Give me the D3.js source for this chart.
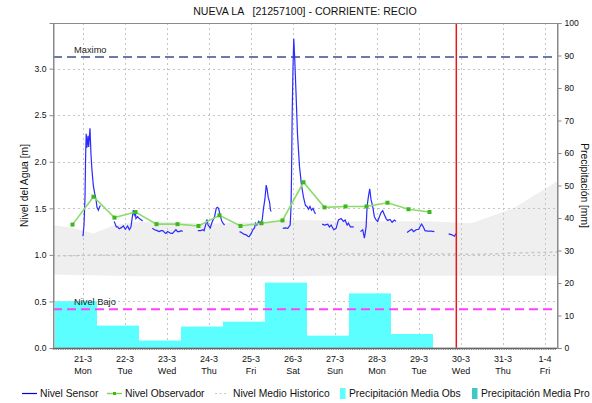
<!DOCTYPE html>
<html><head><meta charset="utf-8">
<script src="https://cdn.jsdelivr.net/npm/d3@7"></script>
<style>body{margin:0;background:#fff}svg{display:block;font-family:"Liberation Sans",Arial,sans-serif}</style>
</head><body><svg id="c" width="592" height="403"></svg>
<script>
// ---------- DATA ----------
const title = "NUEVA LA   [21257100] - CORRIENTE: RECIO";
const xDomain = ["03-20 06:52", "04-01 06:52"];
const dayTicks = ["03-21 00:00","03-22 00:00","03-23 00:00","03-24 00:00","03-25 00:00","03-26 00:00","03-27 00:00","03-28 00:00","03-29 00:00","03-30 00:00","03-31 00:00","04-01 00:00"];
const dayTickLabels = ["21-3","22-3","23-3","24-3","25-3","26-3","27-3","28-3","29-3","30-3","31-3","1-4"];
const dayTickWeekdays = ["Mon","Tue","Wed","Thu","Fri","Sat","Sun","Mon","Tue","Wed","Thu","Fri"];
const levelTicks = [0, 0.5, 1, 1.5, 2, 2.5, 3];
const levelTickLabels = ["0.0","0.5","1.0","1.5","2.0","2.5","3.0"];
const precipTicks = [0,10,20,30,40,50,60,70,80,90,100];
const levelMax = 3.49;
const precipMax = 100;
const maximoLevel = 3.125;
const nivelBajoLevel = 0.415;
const nowTime = "03-29 21:20";

const precipPeriodEnd = ["03-21 08:00","03-22 08:00","03-23 08:00","03-24 08:00","03-25 08:00","03-26 08:00","03-27 08:00","03-28 08:00","03-29 08:00"];
const precipObs = [14.4, 6.9, 2.3, 6.6, 8.1, 20.1, 3.8, 16.8, 4.3];

const obsTimes = ["03-20 18:00","03-21 06:00","03-21 18:00","03-22 06:00","03-22 18:00","03-23 06:00","03-23 18:00","03-24 06:00","03-24 18:00","03-25 06:00","03-25 18:00","03-26 06:00","03-26 18:00","03-27 06:00","03-27 18:00","03-28 06:00","03-28 18:00","03-29 06:00"];
const obsValues = [1.325, 1.625, 1.40, 1.46, 1.33, 1.33, 1.31, 1.425, 1.31, 1.34, 1.37, 1.78, 1.51, 1.52, 1.52, 1.56, 1.49, 1.46];

const histTimes = ["03-20 06:00","03-20 18:00","03-21 06:00","03-21 18:00","03-22 06:00","03-22 18:00","03-23 06:00","03-23 18:00","03-24 06:00","03-24 18:00","03-25 06:00","03-25 18:00","03-26 06:00","03-26 18:00","03-27 06:00","03-27 18:00","03-28 06:00","03-28 18:00","03-29 06:00","03-29 18:00","03-30 06:00","03-30 18:00","03-31 06:00","03-31 18:00","04-01 06:00","04-01 18:00"];
const histHigh = [1.32,1.29,1.23,1.32,1.35,1.36,1.35,1.34,1.34,1.35,1.35,1.37,1.375,1.37,1.365,1.36,1.36,1.36,1.36,1.35,1.34,1.42,1.50,1.64,1.78,1.85];
const histLow  = [0.79,0.785,0.78,0.775,0.77,0.77,0.77,0.77,0.77,0.77,0.77,0.77,0.77,0.775,0.775,0.775,0.775,0.775,0.775,0.775,0.775,0.775,0.775,0.775,0.775,0.775];
const histMedian = [0.99,0.99,1.0,1.0,1.0,1.0,0.995,1.0,1.0,1.0,1.0,1.0,1.0,1.005,1.01,1.01,1.01,1.01,1.01,1.01,1.005,1.01,1.02,1.025,1.03,1.035];

const sensorSegments = [
 [["03-21 00:00",1.20],["03-21 00:35",1.32],["03-21 01:10",1.62],["03-21 01:30",2.05],["03-21 01:50",2.30],["03-21 02:17",2.15],["03-21 02:51",2.28],["03-21 03:15",2.16],["03-21 04:00",2.36],["03-21 04:34",2.08],["03-21 05:08",1.91],["03-21 05:56",1.74],["03-21 06:41",1.66],["03-21 07:25",1.60],["03-21 08:00",1.51],["03-21 08:48",1.48],["03-21 09:22",1.51],["03-21 09:56",1.53]],
 [["03-21 17:50",1.36],["03-21 19:04",1.30],["03-21 19:48",1.30],["03-21 20:40",1.28],["03-21 21:42",1.29],["03-21 23:04",1.31],["03-22 00:12",1.275],["03-22 01:31",1.31],["03-22 02:29",1.27],["03-22 03:24",1.30],["03-22 03:58",1.375],["03-22 04:46",1.48],["03-22 05:20",1.43],["03-22 05:55",1.465],["03-22 06:16",1.39],["03-22 07:14",1.41],["03-22 08:12",1.39],["03-22 09:20",1.375],["03-22 10:05",1.365]],
 [["03-22 15:37",1.285],["03-22 16:56",1.27],["03-22 18:22",1.26],["03-22 19:37",1.25],["03-22 20:38",1.26],["03-22 21:30",1.26],["03-22 22:38",1.24],["03-22 23:23",1.23],["03-23 00:21",1.25],["03-23 01:19",1.24],["03-23 02:20",1.23],["03-23 03:12",1.23],["03-23 04:03",1.25],["03-23 05:06",1.27],["03-23 06:04",1.25],["03-23 07:02",1.25],["03-23 08:04",1.26],["03-23 08:55",1.25]],
 [["03-23 17:39",1.26],["03-23 19:12",1.26],["03-23 20:30",1.27],["03-23 21:11",1.26],["03-23 22:13",1.33],["03-23 22:54",1.38],["03-23 23:28",1.32],["03-24 00:43",1.29],["03-24 01:45",1.35],["03-24 03:11",1.41],["03-24 04:09",1.50],["03-24 04:47",1.51],["03-24 05:28",1.50],["03-24 06:19",1.43],["03-24 07:21",1.36],["03-24 08:02",1.34],["03-24 08:53",1.32]],
 [["03-24 17:28",1.25],["03-24 18:36",1.24],["03-24 19:20",1.23],["03-24 20:18",1.22],["03-24 21:17",1.215],["03-24 22:12",1.20],["03-24 22:53",1.195],["03-25 00:08",1.23],["03-25 01:03",1.27],["03-25 02:01",1.29],["03-25 02:36",1.34],["03-25 03:20",1.32],["03-25 04:28",1.36],["03-25 05:16",1.33],["03-25 06:24",1.375],["03-25 07:09",1.50],["03-25 07:54",1.59],["03-25 08:42",1.75],["03-25 09:16",1.70],["03-25 09:50",1.62],["03-25 10:35",1.57],["03-25 11:09",1.48],["03-25 11:33",1.465]],
 [["03-25 18:10",1.285],["03-25 19:43",1.29],["03-25 21:02",1.285],["03-25 22:24",1.32],["03-25 22:51",1.50],["03-25 23:08",1.80],["03-25 23:32",2.50],["03-26 00:00",3.00],["03-26 00:27",3.32],["03-26 01:02",3.09],["03-26 01:43",2.75],["03-26 02:34",2.30],["03-26 03:43",1.95],["03-26 04:51",1.75],["03-26 06:00",1.62],["03-26 07:09",1.53],["03-26 08:00",1.52],["03-26 08:51",1.49],["03-26 09:43",1.52],["03-26 10:34",1.48],["03-26 11:25",1.50],["03-26 12:17",1.46],["03-26 12:51",1.44]],
 [["03-26 16:40",1.33],["03-26 18:00",1.32],["03-26 19:52",1.33],["03-26 20:50",1.30],["03-26 21:48",1.32],["03-26 23:17",1.27],["03-27 00:39",1.285],["03-27 01:58",1.375],["03-27 03:30",1.39],["03-27 04:49",1.36],["03-27 05:47",1.375],["03-27 06:56",1.32],["03-27 07:41",1.34],["03-27 08:50",1.30],["03-27 10:08",1.30],["03-27 10:42",1.30]],
 [["03-27 14:32",1.25],["03-27 15:51",1.27],["03-27 16:49",1.18],["03-27 17:47",1.30],["03-27 18:21",1.52],["03-27 19:06",1.625],["03-27 19:50",1.71],["03-27 20:38",1.59],["03-27 21:33",1.52],["03-27 22:31",1.41],["03-27 23:29",1.375],["03-28 00:24",1.36],["03-28 01:23",1.41],["03-28 02:21",1.455],["03-28 03:16",1.475],["03-28 04:14",1.43],["03-28 05:12",1.39],["03-28 06:07",1.37],["03-28 07:29",1.38],["03-28 08:38",1.35],["03-28 09:56",1.375],["03-28 10:54",1.36]],
 [["03-28 17:12",1.24],["03-28 18:31",1.26],["03-28 19:50",1.275],["03-28 20:58",1.25],["03-28 22:20",1.27],["03-28 23:49",1.275],["03-29 00:47",1.31],["03-29 01:31",1.33],["03-29 02:30",1.30],["03-29 03:28",1.26],["03-29 04:57",1.255],["03-29 06:53",1.255],["03-29 08:46",1.25]],
 [["03-29 16:57",1.225],["03-29 18:53",1.215],["03-29 20:13",1.20],["03-29 21:10",1.23]]
];

const legendItems = ["Nivel Sensor","Nivel Observador","Nivel Medio Historico","Precipitación Media Obs","Precipitación Media Pro"];

// ---------- DRAW ----------
const parseT = d3.timeParse("%Y-%m-%d %H:%M");
const T = s => parseT("2022-" + s);

const svg = d3.select("#c");
const m = {l: 53, t: 23, r: 35, b: 55};
const W = 592, H = 403;
const iw = W - m.l - m.r, ih = H - m.t - m.b;

const x = d3.scaleTime().domain(xDomain.map(T)).range([m.l, m.l + iw]);
const y = d3.scaleLinear().domain([0, levelMax]).range([m.t + ih, m.t]);
const yP = d3.scaleLinear().domain([0, precipMax]).range([m.t + ih, m.t]);

svg.append("defs").append("clipPath").attr("id","clip")
  .append("rect").attr("x", m.l).attr("y", m.t).attr("width", iw).attr("height", ih);
const plot = svg.append("g").attr("clip-path","url(#clip)");

// historic band
const hist = histTimes.map((t,i) => ({t: T(t), lo: histLow[i], hi: histHigh[i], med: histMedian[i]}));
plot.append("path").datum(hist)
  .attr("d", d3.area().x(d => x(d.t)).y0(d => y(d.lo)).y1(d => y(d.hi)))
  .attr("fill", "#efefef");

// grid
const gridColor = "#c4c4c4";
plot.selectAll(".vg").data(dayTicks).join("line")
  .attr("x1", d => x(T(d)) + 0.5).attr("x2", d => x(T(d)) + 0.5)
  .attr("y1", m.t).attr("y2", m.t + ih)
  .attr("stroke", gridColor).attr("stroke-dasharray", "2,3");
plot.selectAll(".hg").data(levelTicks.filter(v => v > 0)).join("line")
  .attr("x1", m.l).attr("x2", m.l + iw)
  .attr("y1", d => Math.round(y(d)) + 0.5).attr("y2", d => Math.round(y(d)) + 0.5)
  .attr("stroke", gridColor).attr("stroke-dasharray", "2,3");

// precipitation bars
plot.selectAll(".bar").data(precipObs).join("rect")
  .attr("x", (d,i) => x(d3.timeHour.offset(T(precipPeriodEnd[i]), -24)))
  .attr("width", (d,i) => x(T(precipPeriodEnd[i])) - x(d3.timeHour.offset(T(precipPeriodEnd[i]), -24)))
  .attr("y", d => yP(d))
  .attr("height", d => yP(0) - yP(d))
  .attr("fill", "#5cffff");

// historic median
plot.append("path").datum(hist)
  .attr("d", d3.line().x(d => x(d.t)).y(d => y(d.med)))
  .attr("fill","none").attr("stroke","#c8c8c8").attr("stroke-width",1.5).attr("stroke-dasharray","3,3");

// Maximo / Nivel Bajo lines
plot.append("line").attr("x1", m.l).attr("x2", m.l + iw)
  .attr("y1", y(maximoLevel)).attr("y2", y(maximoLevel))
  .attr("stroke", "#6c7aa6").attr("stroke-width", 2).attr("stroke-dasharray", "9,5");
plot.append("line").attr("x1", m.l).attr("x2", m.l + iw)
  .attr("y1", y(nivelBajoLevel)).attr("y2", y(nivelBajoLevel))
  .attr("stroke", "#ff40ff").attr("stroke-width", 2).attr("stroke-dasharray", "9,5");
svg.append("text").attr("x", m.l + 21).attr("y", y(maximoLevel) - 4)
  .attr("font-size", 9.3).attr("fill", "#222").text("Maximo");
svg.append("text").attr("x", m.l + 21).attr("y", y(nivelBajoLevel) - 4)
  .attr("font-size", 9.3).attr("fill", "#222").text("Nivel Bajo");

// sensor line
const sLine = d3.line().x(d => x(T(d[0]))).y(d => y(d[1]));
plot.selectAll(".seg").data(sensorSegments).join("path")
  .attr("d", sLine).attr("fill","none").attr("stroke","#2a2aff").attr("stroke-width",1.2);

// observer line
const obs = obsTimes.map((t,i) => ({t: T(t), v: obsValues[i]}));
plot.append("path").datum(obs)
  .attr("d", d3.line().x(d => x(d.t)).y(d => y(d.v)))
  .attr("fill","none").attr("stroke","#8cdc6c").attr("stroke-width",1.6);
plot.selectAll(".om").data(obs).join("rect")
  .attr("x", d => x(d.t) - 2).attr("y", d => y(d.v) - 2)
  .attr("width", 4).attr("height", 4).attr("fill", "#3cb81c");

// now line
plot.append("line").attr("x1", x(T(nowTime))).attr("x2", x(T(nowTime)))
  .attr("y1", m.t).attr("y2", m.t + ih)
  .attr("stroke", "#e41a1a").attr("stroke-width", 1.5);

// frame
svg.append("rect").attr("x", m.l + 0.5).attr("y", m.t + 0.5).attr("width", iw).attr("height", ih - 0.5)
  .attr("fill","none").attr("stroke","#8a8a8a").attr("stroke-width",1);

// left axis
const axL = svg.append("g").attr("transform", `translate(${m.l + 0.5},0)`)
  .call(d3.axisLeft(y).tickValues(levelTicks).tickFormat((d,i) => levelTickLabels[i]).tickSize(4).tickPadding(3));
axL.select(".domain").attr("stroke","#8a8a8a");
axL.selectAll(".tick line").attr("stroke","#8a8a8a");
axL.selectAll("text").attr("font-size", 8.6).attr("font-family", "Liberation Sans, Arial").attr("fill","#111");

// right axis
const axR = svg.append("g").attr("transform", `translate(${m.l + iw + 0.5},0)`)
  .call(d3.axisRight(yP).tickValues(precipTicks).tickSize(4).tickPadding(3));
axR.select(".domain").attr("stroke","#8a8a8a");
axR.selectAll(".tick line").attr("stroke","#8a8a8a");
axR.selectAll("text").attr("font-size", 8.6).attr("font-family", "Liberation Sans, Arial").attr("fill","#111");

// bottom axis minor ticks (hourly)
const hours = d3.timeHour.range(x.domain()[0], x.domain()[1]);
svg.append("g").selectAll("line").data(hours).join("line")
  .attr("x1", d => x(d)).attr("x2", d => x(d))
  .attr("y1", m.t + ih).attr("y2", m.t + ih + 2)
  .attr("stroke", "#666").attr("stroke-width", 0.8);
svg.append("line").attr("x1", m.l).attr("x2", m.l + iw).attr("y1", m.t + ih + 0.5).attr("y2", m.t + ih + 0.5)
  .attr("stroke", "#666");

// x tick labels
const xl = svg.append("g").attr("font-size", 9).attr("fill", "#111").attr("text-anchor", "middle");
xl.selectAll(".d").data(dayTicks).join("text")
  .attr("x", d => x(T(d))).attr("y", m.t + ih + 14).text((d,i) => dayTickLabels[i]);
xl.selectAll(".w").data(dayTicks).join("text")
  .attr("x", d => x(T(d))).attr("y", m.t + ih + 25.5).text((d,i) => dayTickWeekdays[i]);

// title
svg.append("text").attr("x", m.l + iw / 2).attr("y", 15).attr("text-anchor","middle")
  .attr("font-size", 10.6).attr("fill","#111").style("white-space","pre").attr("xml:space","preserve").text(title);

// axis titles
svg.append("text").attr("transform", `translate(28,${m.t + ih/2}) rotate(-90)`)
  .attr("text-anchor","middle").attr("font-size", 10.3).attr("fill","#111").text("Nivel del Agua [m]");
svg.append("text").attr("transform", `translate(581,${m.t + ih/2}) rotate(90)`)
  .attr("text-anchor","middle").attr("font-size", 10.3).attr("fill","#111").text("Precipitación [mm]");

// legend
const lg = svg.append("g").attr("font-size", 10.3).attr("fill", "#111");
const ly = 397;
lg.append("line").attr("x1",22).attr("x2",37).attr("y1",ly-3.5).attr("y2",ly-3.5).attr("stroke","#0000e0").attr("stroke-width",1.2);
lg.append("text").attr("x",40).attr("y",ly).text(legendItems[0]);
lg.append("line").attr("x1",107).attr("x2",122).attr("y1",ly-3.5).attr("y2",ly-3.5).attr("stroke","#7cd45c").attr("stroke-width",1.4);
lg.append("rect").attr("x",113).attr("y",ly-5).attr("width",3).attr("height",3).attr("fill","#3cb81c");
lg.append("text").attr("x",125).attr("y",ly).text(legendItems[1]);
lg.append("line").attr("x1",215).attr("x2",229).attr("y1",ly-3.5).attr("y2",ly-3.5).attr("stroke","#c8c8c8").attr("stroke-width",1.2).attr("stroke-dasharray","2,2.5");
lg.append("text").attr("x",233).attr("y",ly).text(legendItems[2]);
lg.append("rect").attr("x",340).attr("y",ly-9).attr("width",5.5).attr("height",11).attr("fill","#5cffff");
lg.append("text").attr("x",349).attr("y",ly).text(legendItems[3]);
lg.append("rect").attr("x",472).attr("y",ly-9).attr("width",5.5).attr("height",11).attr("fill","#40c8c8");
lg.append("text").attr("x",481).attr("y",ly).text(legendItems[4]);
</script></body></html>
